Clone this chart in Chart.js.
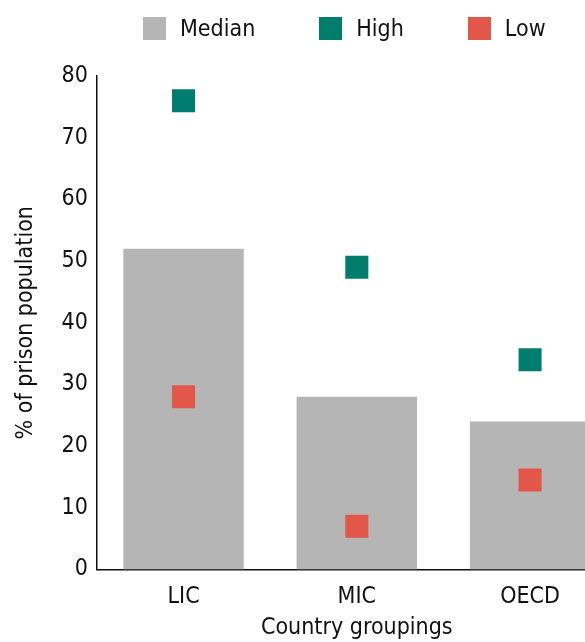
<!DOCTYPE html>
<html>
<head>
<meta charset="utf-8">
<script src="https://cdn.jsdelivr.net/npm/chart.js@4.4.1/dist/chart.umd.min.js"></script>
<style>
  html, body { margin: 0; padding: 0; background: #fff; overflow: hidden; }
  #wrap { position: relative; width: 585px; height: 642px; overflow: hidden; }
  #chart { position: absolute; left: 0; top: 0; }
  #legend { position: absolute; left: 143px; top: 17px; display: flex; font-family: "DejaVu Sans Condensed", "Liberation Sans Narrow", sans-serif; font-size: 23px; line-height: 23px; color: #111; }
  .item { display: flex; align-items: center; margin-right: 64px; }
  .swatch { width: 23px; height: 23px; margin-right: 14px; }
</style>
</head>
<body>
<div id="wrap">
  <canvas id="chart" width="633" height="642"></canvas>
  <div id="legend"></div>
</div>
<script>
const groups = ['LIC', 'MIC', 'OECD'];
const median = [52, 28, 24];
const high = [76, 49, 34];
const low = [28, 7, 14.5];
const yTicks = [0, 10, 20, 30, 40, 50, 60, 70, 80];

const FONT = '"DejaVu Sans Condensed", "Liberation Sans Narrow", sans-serif';
const INK = '#111';

const chart = new Chart(document.getElementById('chart'), {
  type: 'bar',
  data: {
    labels: groups,
    datasets: [
      {
        label: 'Median', data: median, backgroundColor: '#b5b5b6',
        borderWidth: 0, barPercentage: 1, categoryPercentage: 0.695, order: 3
      },
      {
        type: 'line', label: 'High', data: high, showLine: false,
        pointStyle: 'rect', pointRadius: 16.3, pointHoverRadius: 16.3,
        backgroundColor: '#007d6c', pointBackgroundColor: '#007d6c', pointBorderWidth: 0, order: 1
      },
      {
        type: 'line', label: 'Low', data: low, showLine: false,
        pointStyle: 'rect', pointRadius: 16.3, pointHoverRadius: 16.3,
        backgroundColor: '#e3574a', pointBackgroundColor: '#e3574a', pointBorderWidth: 0, order: 2
      }
    ]
  },
  options: {
    responsive: false,
    animation: false,
    layout: { padding: { top: 76, left: 0, right: 5, bottom: 0 } },
    plugins: { legend: { display: false }, tooltip: { enabled: false } },
    scales: {
      x: {
        grid: { display: false, drawTicks: false },
        border: { display: true, color: '#111', width: 1.5 },
        ticks: { color: INK, font: { family: FONT, size: 23, lineHeight: 1 }, padding: 16 },
        title: { display: true, text: 'Country groupings', color: INK, font: { family: FONT, size: 23, lineHeight: 1 }, padding: { top: -7.5, bottom: 2 } }
      },
      y: {
        min: 0, max: 80,
        afterBuildTicks: (s) => { s.ticks = yTicks.map(v => ({ value: v })); },
        grid: { display: false, drawTicks: false },
        border: { display: true, color: '#111', width: 1.5 },
        ticks: { color: INK, font: { family: FONT, size: 23 }, padding: 9 },
        title: { display: true, text: '% of prison population', color: INK, font: { family: FONT, size: 23 }, padding: { top: 12, bottom: 13 } }
      }
    }
  }
});

// legend built from the datasets
const legend = document.getElementById('legend');
chart.data.datasets.forEach(ds => {
  const item = document.createElement('div');
  item.className = 'item';
  const sw = document.createElement('span');
  sw.className = 'swatch';
  sw.style.background = ds.backgroundColor;
  const tx = document.createElement('span');
  tx.textContent = ds.label;
  item.appendChild(sw);
  item.appendChild(tx);
  legend.appendChild(item);
});
</script>
</body>
</html>
